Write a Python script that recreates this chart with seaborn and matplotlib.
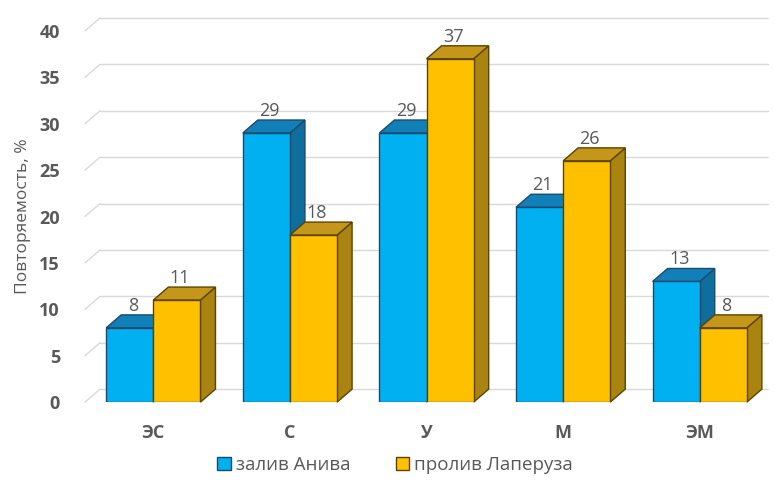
import matplotlib
matplotlib.use('Agg')
import matplotlib.pyplot as plt
from matplotlib.patches import Polygon, Patch
import seaborn as sns
import pandas as pd

# данные
categories = ['ЭС', 'С', 'У', 'М', 'ЭМ']
series_names = ['залив Анива', 'пролив Лаперуза']
aniva = [8, 29, 29, 21, 13]
laperuza = [11, 18, 37, 26, 8]
y_ticks = [0, 5, 10, 15, 20, 25, 30, 35, 40]

front_colors = ['#00B0F0', '#FFC000']
top_colors = ['#1280B8', '#C4961A']
side_colors = ['#0E6E9E', '#A98410']
edge_colors = ['#1B4A6E', '#5C4400']
text_gray = '#595959'

sns.set_theme(style='white')
plt.rcParams['font.family'] = ['Open Sans', 'DejaVu Sans']

df = pd.DataFrame({
    'cat': categories * 2,
    'val': aniva + laperuza,
    'series': [series_names[0]] * len(categories) + [series_names[1]] * len(categories),
})

fig = plt.figure(figsize=(7.75, 4.91), dpi=100)
ax = fig.add_axes([0.1097, 0.181, 0.8813, 0.756])

sns.barplot(data=df, x='cat', y='val', hue='series', hue_order=series_names,
            palette=front_colors, width=0.69, gap=0, saturation=1,
            edgecolor='black', linewidth=1.0, legend=False, ax=ax)

ax.set_xlim(-0.5, 4.5)
ax.set_ylim(0, 40)

# глубина "3D"
dx = 0.11
dy = 1.4

# сетка: левая стенка + задняя стенка
for t in y_ticks:
    ax.plot([-0.5, -0.5 + dx], [t, t + dy], color='#D9D9D9', lw=1.0, zorder=0, clip_on=False)
    ax.plot([-0.5 + dx, 4.5], [t + dy, t + dy], color='#D9D9D9', lw=1.0, zorder=0, clip_on=False)

for i, cont in enumerate(ax.containers):
    z = 2 + i * 3
    for bar in cont:
        bar.set_facecolor(front_colors[i])
        bar.set_edgecolor(edge_colors[i])
        bar.set_zorder(z + 2)
        x0 = bar.get_x()
        x1 = x0 + bar.get_width()
        h = bar.get_height()
        side = Polygon([(x1, 0), (x1, h), (x1 + dx, h + dy), (x1 + dx, dy)],
                       closed=True, facecolor=side_colors[i], edgecolor=edge_colors[i],
                       lw=1.0, zorder=z, clip_on=False)
        top = Polygon([(x0, h), (x1, h), (x1 + dx, h + dy), (x0 + dx, h + dy)],
                      closed=True, facecolor=top_colors[i], edgecolor=edge_colors[i],
                      lw=1.0, zorder=z + 1, clip_on=False)
        ax.add_patch(side)
        ax.add_patch(top)
        ax.text((x0 + x1) / 2 + dx * 0.2, h + dy + 1.0, f'{h:.0f}', ha='center', va='center',
                fontsize=13, color=text_gray, zorder=10)

for s in ax.spines.values():
    s.set_visible(False)

ax.set_yticks(y_ticks)
ax.tick_params(axis='both', length=0, colors=text_gray, labelsize=13)
ax.tick_params(axis='y', pad=18)
ax.tick_params(axis='x', pad=16)
for lab in ax.get_xticklabels() + ax.get_yticklabels():
    lab.set_fontweight('bold')
ax.set_xlabel('')
ax.set_ylabel('Повторяемость, %', fontsize=12.5, color=text_gray, labelpad=6)

handles = [Patch(facecolor=front_colors[i], edgecolor=edge_colors[i], label=series_names[i])
           for i in range(2)]
fig.legend(handles=handles, loc='center', bbox_to_anchor=(0.51, 0.052), ncol=2,
           frameon=False, fontsize=13.5, handlelength=0.7, handleheight=0.7,
           handletextpad=0.3, columnspacing=2.4, labelcolor=text_gray)

fig.savefig('out.png', dpi=100)
